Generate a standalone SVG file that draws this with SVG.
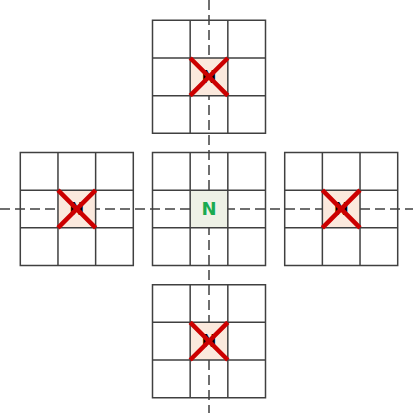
<svg xmlns="http://www.w3.org/2000/svg" width="417" height="417" viewBox="0 0 417 417">
<defs>
<style>
.grid{fill:none;stroke:#404040;stroke-width:1.5}
.axis{stroke:#404040;stroke-width:1.5;stroke-dasharray:10,5;fill:none}
.bad{fill:#fbe9dd}
.ok{fill:#eef1e6}
.lbl{font-family:"DejaVu Sans","Liberation Sans",Arial,sans-serif;font-weight:bold;font-size:18px;text-anchor:middle}
.lblbad{fill:#000}
.lblok{fill:#1aaa50}
.cross{stroke:#cc0000;stroke-width:4.5;fill:none}
</style>
<path id="gridlines" class="grid" d="M0,0H113V113H0Z M37.67,0V113 M75.33,0V113 M0,37.67H113 M0,75.33H113"/>
</defs>
<rect width="417" height="417" fill="#fff"/>
<g id="connectors">
<line class="axis" x1="209" y1="0" x2="209" y2="413"/>
<line class="axis" x1="0" y1="209" x2="413" y2="209"/>
</g>
<g id="center" transform="translate(152.5,152.5)">
<rect class="ok" x="37.67" y="37.67" width="37.66" height="37.66"/>
<use href="#gridlines"/>
<text class="lbl lblok" x="56.5" y="62.8">N</text>
</g>
<g id="top" transform="translate(152.5,20.3)">
<rect class="bad" x="37.67" y="37.67" width="37.66" height="37.66"/>
<use href="#gridlines"/>
<text class="lbl lblbad" x="56.5" y="62.8">N</text>
<path class="cross" d="M37.67,37.67L75.33,75.33M75.33,37.67L37.67,75.33"/>
</g>
<g id="left" transform="translate(20.3,152.5)">
<rect class="bad" x="37.67" y="37.67" width="37.66" height="37.66"/>
<use href="#gridlines"/>
<text class="lbl lblbad" x="56.5" y="62.8">N</text>
<path class="cross" d="M37.67,37.67L75.33,75.33M75.33,37.67L37.67,75.33"/>
</g>
<g id="right" transform="translate(284.7,152.5)">
<rect class="bad" x="37.67" y="37.67" width="37.66" height="37.66"/>
<use href="#gridlines"/>
<text class="lbl lblbad" x="56.5" y="62.8">N</text>
<path class="cross" d="M37.67,37.67L75.33,75.33M75.33,37.67L37.67,75.33"/>
</g>
<g id="bottom" transform="translate(152.5,284.7)">
<rect class="bad" x="37.67" y="37.67" width="37.66" height="37.66"/>
<use href="#gridlines"/>
<text class="lbl lblbad" x="56.5" y="62.8">N</text>
<path class="cross" d="M37.67,37.67L75.33,75.33M75.33,37.67L37.67,75.33"/>
</g>
</svg>
